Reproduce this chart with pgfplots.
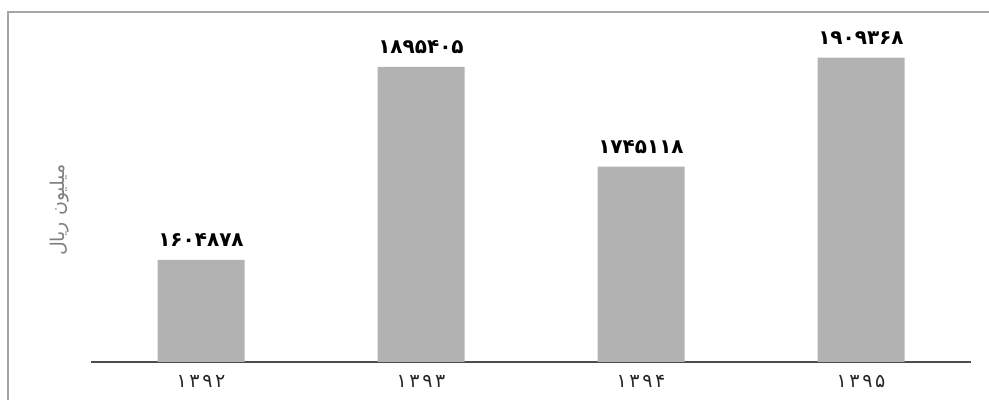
\documentclass[border=0pt]{standalone}
\usepackage{pgfplots}
\pgfplotsset{compat=1.18}
\usepackage{fontspec}
\setmainfont{DejaVu Sans}
\newfontfamily\arabicfont[Script=Arabic]{DejaVu Sans}
\newfontfamily\digitfont[LetterSpace=14]{DejaVu Sans}
\TeXXeTstate=1
\begin{document}
\begin{tikzpicture}
\useasboundingbox (0,0) rectangle (494.5pt,200pt);
\draw[black!35, line width=1pt] (4pt,-2pt) -- (4pt,194pt) -- (497pt,194pt);
\node[rotate=90, text=black!50, font=\arabicfont\fontsize{9.5pt}{11pt}\selectfont] at (30pt,95pt) {\beginR میلیون ریال\endR};
\begin{axis}[
  at={(45.5pt,19pt)}, anchor=south west,
  width=440pt, height=175pt, scale only axis,
  xmin=-0.5, xmax=3.5, ymin=1451000, ymax=1978000,
  axis x line*=bottom, axis y line=none,
  x axis line style={black!70, line width=1.1pt, -},
  xtick={0,1,2,3},
  xticklabels={۱۳۹۲,۱۳۹۳,۱۳۹۴,۱۳۹۵},
  xticklabel style={font=\digitfont\fontsize{9.5pt}{11pt}\selectfont, text=black!85, yshift=-3pt},
  major tick length=0pt,
  ybar, bar width=43.5pt,
  nodes near coords,
  point meta=explicit symbolic,
  nodes near coords style={font=\arabicfont\bfseries\fontsize{10pt}{12pt}\selectfont, yshift=3pt},
]
\addplot[fill=black!30, draw=none] coordinates {
  (0,1604878) [۱۶۰۴۸۷۸]
  (1,1895405) [۱۸۹۵۴۰۵]
  (2,1745118) [۱۷۴۵۱۱۸]
  (3,1909368) [۱۹۰۹۳۶۸]
};
\end{axis}
\end{tikzpicture}
\end{document}
